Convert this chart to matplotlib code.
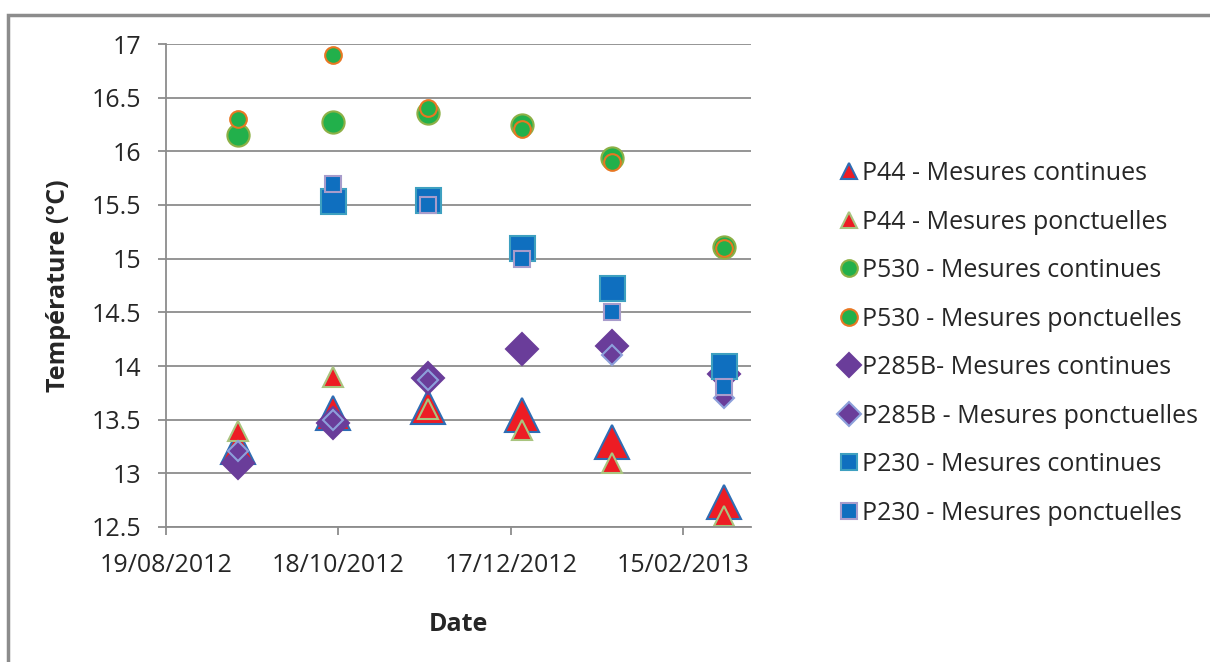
import matplotlib
matplotlib.use('Agg')
import matplotlib.pyplot as plt
import matplotlib.dates as mdates
import numpy as np
import pandas as pd
from matplotlib.patches import Rectangle

plt.rcParams['font.family'] = ['Open Sans', 'DejaVu Sans']

# dates des campagnes
dates = pd.to_datetime(['2012-09-13', '2012-10-16', '2012-11-18',
                        '2012-12-21', '2013-01-21', '2013-03-01'])

p44_cont = [13.25, 13.56, 13.62, 13.54, 13.29, 12.73]
p44_ponct = [13.39, 13.9, 13.6, 13.4, 13.1, 12.6]
p530_cont = [16.15, 16.27, 16.36, 16.25, 15.94, 15.11]
p530_ponct = [16.3, 16.9, 16.4, 16.21, 15.9, 15.1]
p285b_cont = [13.1, 13.47, 13.89, 14.16, 14.19, 13.93]
p285b_ponct = [13.21, 13.5, 13.87, np.nan, 14.1, 13.7]
p230_cont = [np.nan, 15.54, 15.55, 15.1, 14.73, 14.0]
p230_ponct = [np.nan, 15.7, 15.5, 15.0, 14.5, 13.8]

labels = ['P44 - Mesures continues', 'P44 - Mesures ponctuelles',
          'P530 - Mesures continues', 'P530 - Mesures ponctuelles',
          'P285B- Mesures continues', 'P285B - Mesures ponctuelles',
          'P230 - Mesures continues', 'P230 - Mesures ponctuelles']

# (valeurs, marqueur, taille, remplissage, bordure)
series = [
    (p44_cont, '^', 24, '#ed1c24', '#2e6db4'),
    (p44_ponct, '^', 14, '#ed1c24', '#a9c47f'),
    (p530_cont, 'o', 16, '#22b04b', '#8db046'),
    (p530_ponct, 'o', 12, '#22b04b', '#e87722'),
    (p285b_cont, 'D', 16, '#6a3d9a', '#6a3d9a'),
    (p285b_ponct, 'D', 10, '#6a3d9a', '#8da0db'),
    (p230_cont, 's', 18, '#0f6fbf', '#3ea0c0'),
    (p230_ponct, 's', 12, '#0f6fbf', '#a89ccb'),
]

FS = 18
fig = plt.figure(figsize=(12.1, 6.62), dpi=100)
W, H = 1210, 662
ax = fig.add_axes([166 / W, 1 - 527 / H, (751 - 166) / W, (527 - 44) / H])

for (vals, m, ms, fc, ec), lab in zip(series, labels):
    ax.plot(dates, vals, linestyle='none', marker=m, markersize=ms,
            markerfacecolor=fc, markeredgecolor=ec, markeredgewidth=1.5,
            label=lab, clip_on=False)

ax.set_ylim(12.5, 17)
ax.set_yticks(np.arange(12.5, 17.01, 0.5))
ax.set_yticklabels(['12.5', '13', '13.5', '14', '14.5', '15', '15.5', '16', '16.5', '17'])
x0 = mdates.date2num(pd.Timestamp('2012-08-19'))
ax.set_xlim(x0, x0 + 203.5)
ax.set_xticks([x0 + 60 * i for i in range(4)])
ax.xaxis.set_major_formatter(mdates.DateFormatter('%d/%m/%Y'))

ax.grid(axis='y', color='#8c8c8c', linewidth=1.3)
ax.set_axisbelow(True)
for s in ['top', 'right']:
    ax.spines[s].set_visible(False)
for s in ['left', 'bottom']:
    ax.spines[s].set_color('#8c8c8c')
    ax.spines[s].set_linewidth(1.3)
ax.tick_params(axis='both', colors='#8c8c8c', labelcolor='#262626',
               labelsize=FS, length=6, width=1.3)
ax.tick_params(axis='x', pad=13)
ax.tick_params(axis='y', pad=12)

ax.set_ylabel('Température (°C)', fontsize=FS, fontweight='bold', color='#262626', labelpad=15)
ax.set_xlabel('Date', fontsize=FS, fontweight='bold', color='#262626', labelpad=24)

leg = fig.legend(loc='upper left', bbox_to_anchor=(831 / W, 1 - 151 / H),
                 frameon=False, fontsize=FS, labelspacing=0.94,
                 handlelength=0.6, handletextpad=0.25, borderaxespad=0)
for h in leg.legend_handles:
    h.set_markersize(12)
for t in leg.get_texts():
    t.set_color('#262626')

# cadre gris autour du graphique
fig.patches.append(Rectangle((8 / W, -0.1), 1.2, 1 - 15 / H + 0.1,
                             transform=fig.transFigure, fill=False,
                             edgecolor='#8c8c8c', linewidth=2.5))

fig.savefig('out.png', dpi=100)
